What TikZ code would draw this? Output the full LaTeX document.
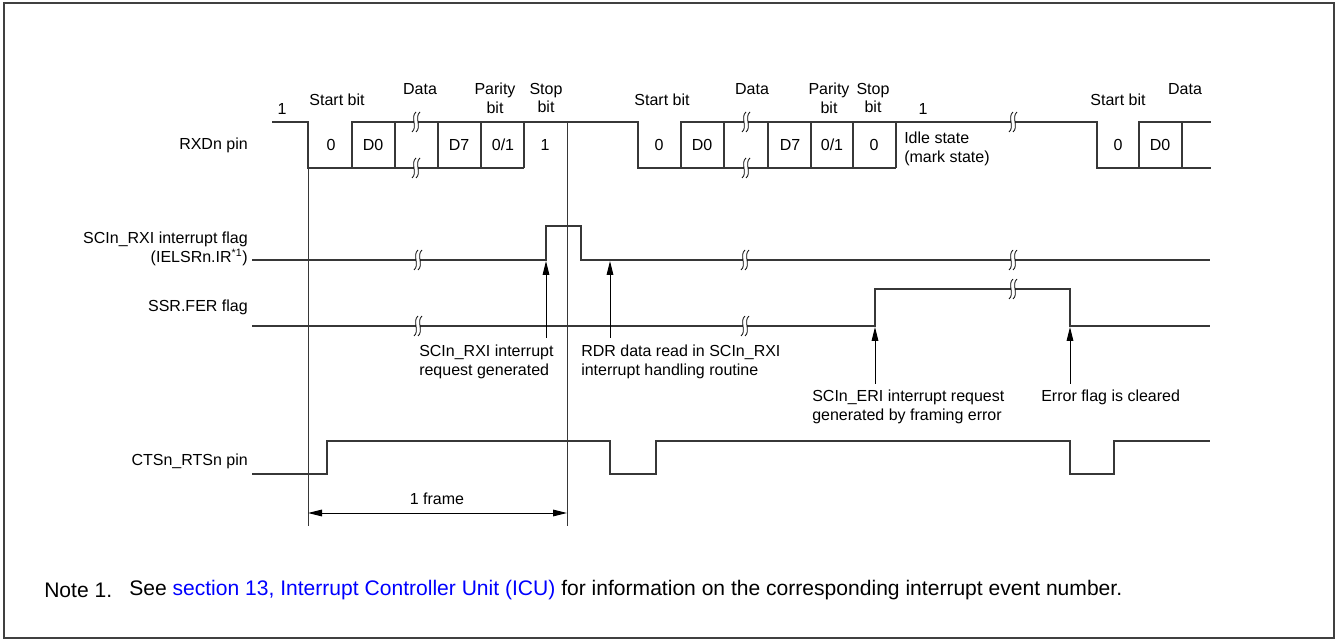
\documentclass[tikz,border=0pt]{standalone}
\usepackage{fontspec}
\setmainfont{Liberation Sans}
\usetikzlibrary{arrows.meta}

\definecolor{linkblue}{RGB}{0,0,255}
\definecolor{wire}{RGB}{55,55,55}

\tikzset{
  sig/.style={line width=1.4pt, draw=wire, line join=miter},
  guide/.style={line width=0.6pt, draw=wire},
  tip/.tip={Triangle[length=10.5pt,width=5pt]},
  ptr/.style={-tip, line width=0.7pt, draw=black},
  lbl/.style={anchor=east, align=right, inner sep=0pt, font=\fontsize{12}{14}\selectfont},
  txt/.style={inner sep=0pt, align=center, font=\fontsize{12}{14}\selectfont},
  cmt/.style={anchor=north west, align=left, inner sep=0pt, font=\fontsize{12}{14}\selectfont},
  notefont/.style={anchor=west, inner sep=0pt, font=\fontsize{15.8}{18}\selectfont},
}

% wave break mark
\newcommand{\brk}[2]{%
  \fill[white] (#1-2,#2-7) rectangle (#1+2,#2+7);
  \draw[line width=0.6pt] (#1,#2-10) .. controls (#1-6,#2-5) and (#1+2,#2+5) .. (#1-4,#2+10);
  \draw[line width=0.6pt] (#1+4,#2-10) .. controls (#1-2,#2-5) and (#1+6,#2+5) .. (#1,#2+10);
}

\begin{document}
\begin{tikzpicture}[>=stealth, x=0.75pt, y=-0.75pt]

\useasboundingbox (0,0) rectangle (1338,641);

% Frame
\draw[line width=1.5pt, draw=black!75] (4,3) rectangle (1334,638);

% Signal names
\node[lbl] (rxdname) at (248,145) {RXDn pin};
\node[lbl] (rxiname) at (248,249) {SCIn\_RXI interrupt flag\\(IELSRn.IR\textsuperscript{*1})};
\node[lbl] (fername) at (248,307) {SSR.FER flag};
\node[lbl] (ctsname) at (248,461) {CTSn\_RTSn pin};

% Frame guides
\draw[guide] (308,168) -- (308,526);
\draw[guide] (567,122) -- (567,526);

% RXDn pin, first frame
\draw[sig] (272,122) -- (308,122) -- (308,168) -- (524,168);
\draw[sig] (352,168) -- (352,122) -- (638,122) -- (638,168) -- (896,168);
\draw[sig] (395,122) -- (395,168);
\draw[sig] (438,122) -- (438,168);
\draw[sig] (481,122) -- (481,168);
\draw[sig] (524,122) -- (524,168);

% RXDn pin, second frame
\draw[sig] (681,168) -- (681,122) -- (1097,122) -- (1097,168) -- (1211,168);
\draw[sig] (724,122) -- (724,168);
\draw[sig] (768,122) -- (768,168);
\draw[sig] (811,122) -- (811,168);
\draw[sig] (853,122) -- (853,168);
\draw[sig] (896,122) -- (896,168);

% RXDn pin, third frame
\draw[sig] (1139,168) -- (1139,122) -- (1211,122);
\draw[sig] (1182,122) -- (1182,168);

% Bit values
\node[txt] (b0)  at (331,145) {0};
\node[txt] (b1)  at (373,145) {D0};
\node[txt] (b2)  at (459,145) {D7};
\node[txt] (b3)  at (503,145) {0/1};
\node[txt] (b4)  at (545,145) {1};
\node[txt] (c0)  at (659,145) {0};
\node[txt] (c1)  at (702,145) {D0};
\node[txt] (c2)  at (790,145) {D7};
\node[txt] (c3)  at (832,145) {0/1};
\node[txt] (c4)  at (874,145) {0};
\node[txt] (d0)  at (1118,145) {0};
\node[txt] (d1)  at (1160,145) {D0};
\node[anchor=west, align=left, inner sep=0pt, font=\fontsize{12}{14}\selectfont] (idle) at (904,149) {Idle state\\(mark state)};

% Bit headers
\node[txt] (one1)   at (282,109) {1};
\node[txt] (start1) at (337,100) {Start bit};
\node[txt] (data1)  at (420,89)  {Data};
\node[txt] (par1)   at (495,98)  {Parity\\bit};
\node[txt] (stop1)  at (546,98)  {Stop\\bit};
\node[txt] (start2) at (662,100) {Start bit};
\node[txt] (data2)  at (752,89)  {Data};
\node[txt] (par2)   at (829,98)  {Parity\\bit};
\node[txt] (stop2)  at (873,98)  {Stop\\bit};
\node[txt] (one2)   at (923,109) {1};
\node[txt] (start3) at (1118,100) {Start bit};
\node[txt] (data3)  at (1185,89)  {Data};

% SCIn_RXI interrupt flag
\draw[sig] (252,260) -- (546,260) -- (546,226) -- (581,226) -- (581,260) -- (1210,260);

% SSR.FER flag
\draw[sig] (252,326) -- (875,326) -- (875,289) -- (1070,289) -- (1070,326) -- (1210,326);

% CTSn_RTSn pin
\draw[sig] (252,474) -- (327,474) -- (327,441) -- (610,441) -- (610,474) -- (656,474)
  -- (656,441) -- (1070,441) -- (1070,474) -- (1114,474) -- (1114,441) -- (1210,441);

% Breaks
\brk{416}{122} \brk{416}{168}
\brk{746}{122} \brk{746}{168}
\brk{1013}{122}
\brk{418}{260} \brk{745}{260} \brk{1013}{260}
\brk{418}{326} \brk{745}{326} \brk{1013}{289}

% Event arrows
\coordinate (rxiup)  at (546,261);
\coordinate (rdrup)  at (610,261);
\coordinate (eriup)  at (875,327);
\coordinate (clrup)  at (1070,327);
\draw[ptr] (546,338) -- (rxiup);
\draw[ptr] (610,338) -- (rdrup);
\draw[ptr] (875,384) -- (eriup);
\draw[ptr] (1070,384) -- (clrup);

\node[cmt] (rxitxt) at (419,345) {SCIn\_RXI interrupt\\request generated};
\node[cmt] (rdrtxt) at (581,345) {RDR data read in SCIn\_RXI\\interrupt handling routine};
\node[cmt] (eritxt) at (812,390) {SCIn\_ERI interrupt request\\generated by framing error};
\node[cmt] (clrtxt) at (1041,390) {Error flag is cleared};

% One frame
\coordinate (fa) at (308,513);
\coordinate (fb) at (567,513);
\draw[tip-tip, line width=0.7pt] (fa) -- (fb);
\node[txt] (frame) at (437,499) {1 frame};

% Note
\node[notefont] (notehead) at (44,590) {Note 1.};
\node[notefont] (notebody) at (129,590)
  {See \textcolor{linkblue}{section 13, Interrupt Controller Unit (ICU)} for information on the corresponding interrupt event number.};

\end{tikzpicture}
\end{document}
